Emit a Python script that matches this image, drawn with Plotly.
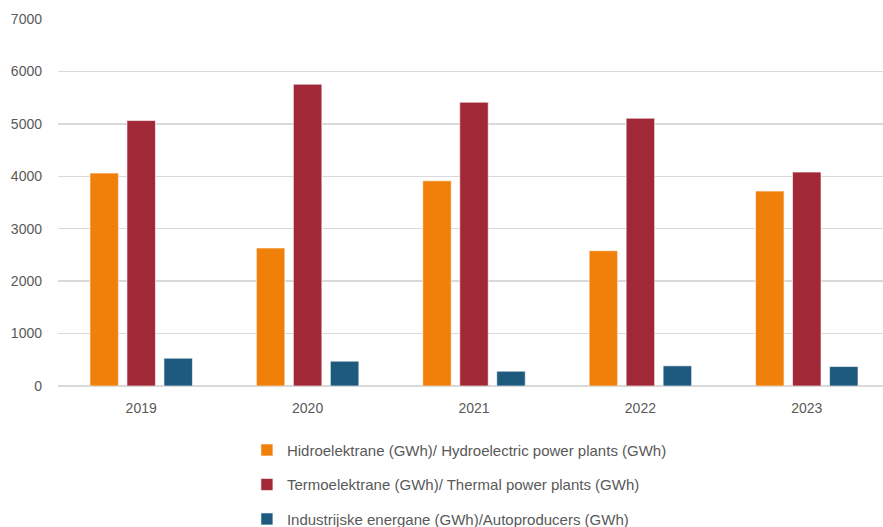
import plotly.graph_objects as go

years = ["2019", "2020", "2021", "2022", "2023"]
hydro = [4061, 2632, 3914, 2581, 3718]
thermal = [5063, 5756, 5413, 5108, 4080]
auto = [530, 473, 282, 385, 371]
names = [
    "Hidroelektrane (GWh)/ Hydroelectric power plants (GWh)",
    "Termoelektrane (GWh)/ Thermal power plants (GWh)",
    "Industrijske energane (GWh)/Autoproducers (GWh)",
]
colors = ["#F0800A", "#A12837", "#1D5A7E"]

fig = go.Figure()
for i, (vals, nm, c) in enumerate(zip([hydro, thermal, auto], names, colors)):
    fig.add_trace(go.Bar(
        x=years, y=vals, name=nm, legendgroup=f"g{i}",
        marker=dict(color=c, line=dict(color="rgba(255,255,255,0.6)", width=1)),
    ))

fig.update_layout(
    width=883, height=527,
    margin=dict(l=58, r=0, t=19, b=140.5, autoexpand=False),
    paper_bgcolor="white", plot_bgcolor="white",
    font=dict(family="Liberation Sans, Arial, sans-serif", size=14, color="#595959"),
    barmode="group", bargap=0.333, bargroupgap=0.23,
    showlegend=True,
    legend=dict(
        orientation="v", x=0.229, xanchor="left", y=-0.13, yanchor="top",
        traceorder="grouped", tracegroupgap=12,
        font=dict(size=15, color="#595959"),
    ),
)
fig.update_xaxes(
    type="category", range=[-0.5, 4.458], showgrid=False, showline=False,
    ticks="", ticklabelstandoff=12, tickfont=dict(size=14, color="#595959"),
    automargin=False,
)
fig.update_yaxes(
    range=[0, 7000], dtick=1000, showgrid=True, gridcolor="#D9D9D9", gridwidth=1.5,
    zeroline=True, zerolinecolor="#D9D9D9", zerolinewidth=1.5, showline=False,
    ticks="", ticklabelstandoff=15, tickfont=dict(size=14, color="#595959"),
    automargin=False,
)
html = fig.to_html(full_html=True, include_plotlyjs=True,
                   config={"displayModeBar": False, "staticPlot": True})
html = html.replace("<body>", '<body style="margin:0;padding:0;overflow:hidden">', 1)
with open("out.html", "w", encoding="utf-8") as f:
    f.write(html)
